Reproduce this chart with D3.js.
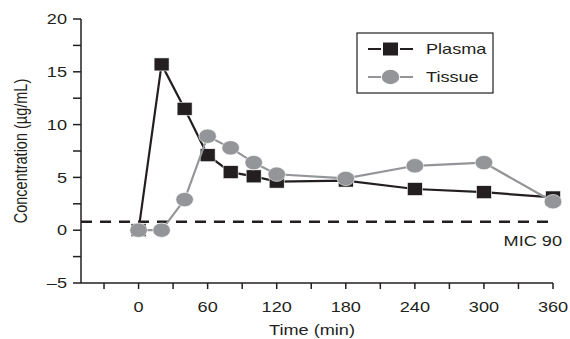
<!DOCTYPE html>
<html>
<head>
<meta charset="utf-8">
<script src="https://cdn.jsdelivr.net/npm/d3@7"></script>
<style>
  body { margin: 0; background: #fff; }
  text { font-family: "Liberation Sans", Arial, sans-serif; fill: #231f20; }
</style>
</head>
<body>
<svg id="chart" width="570" height="339"></svg>
<script>
// data
const times = [0, 20, 40, 60, 80, 100, 120, 180, 240, 300, 360];
const plasma = [0, 15.7, 11.5, 7.1, 5.5, 5.1, 4.6, 4.7, 3.9, 3.6, 3.1];
const tissue = [0, 0, 2.9, 8.9, 7.8, 6.4, 5.3, 4.9, 6.1, 6.4, 2.7];
const mic90 = 0.8;
const xTicks = [0, 60, 120, 180, 240, 300, 360];
const yTicks = [-5, 0, 5, 10, 15, 20];

const black = "#231f20", grey = "#939598";
const fs = 14.5, sx = 1.25; // the source figure is stretched sideways

const svg = d3.select("#chart"),
      x = d3.scaleLinear().domain([-50, 360]).range([81, 553]),
      y = d3.scaleLinear().domain([-5, 20]).range([283, 19]);

const axisW = 1.5;

// text placed with the same sideways stretch
const label = (g, tx, ty, anchor, str) =>
  g.append("text")
    .attr("transform", `translate(${tx},${ty}) scale(${sx},1)`)
    .attr("text-anchor", anchor)
    .attr("font-size", fs)
    .text(str);

// y axis
const yAxis = svg.append("g").attr("transform", `translate(${x.range()[0]},0)`);
yAxis.append("line")
  .attr("y1", y(-5)).attr("y2", y(20))
  .attr("stroke", black).attr("stroke-width", axisW);
yAxis.selectAll("line.tick")
  .data(d3.range(-5, 20.01, 2.5))
  .join("line").classed("tick", true)
  .attr("x1", -8).attr("x2", 0)
  .attr("y1", d => y(d)).attr("y2", d => y(d))
  .attr("stroke", black).attr("stroke-width", axisW);
yTicks.forEach(d => {
  label(yAxis, -14, y(d) + 5.2, "end", d < 0 ? "\u2013" + Math.abs(d) : d);
});

// x axis
const xAxis = svg.append("g").attr("transform", `translate(0,${y(-5)})`);
xAxis.append("line")
  .attr("x1", x(-50)).attr("x2", x(360))
  .attr("stroke", black).attr("stroke-width", axisW);
xAxis.selectAll("line.tick")
  .data(d3.range(-30, 361, 30))
  .join("line").classed("tick", true)
  .attr("x1", d => x(d)).attr("x2", d => x(d))
  .attr("y1", 0).attr("y2", 6)
  .attr("stroke", black).attr("stroke-width", axisW);
xTicks.forEach(d => label(xAxis, x(d), 29, "middle", d));

label(svg, 312, 335, "middle", "Time (min)");

svg.append("text")
  .attr("transform", `translate(27,${y(7.5)}) rotate(-90) scale(1,${sx})`)
  .attr("text-anchor", "middle").attr("font-size", fs)
  .text("Concentration (\u00b5g/mL)");

// MIC 90 line
svg.append("line")
  .attr("x1", x(-50)).attr("x2", x(360))
  .attr("y1", y(mic90)).attr("y2", y(mic90))
  .attr("stroke", black).attr("stroke-width", 2.5)
  .attr("stroke-dasharray", "11,8");
label(svg, 562, y(mic90) + 24, "end", "MIC 90");

const line = d3.line().x(d => x(d.t)).y(d => y(d.v));
const pts = vals => times.map((t, i) => ({t, v: vals[i]}));

// plasma
svg.append("path")
  .attr("d", line(pts(plasma)))
  .attr("fill", "none").attr("stroke", black).attr("stroke-width", 2.2);
svg.selectAll("rect.plasma")
  .data(pts(plasma))
  .join("rect").classed("plasma", true)
  .attr("x", d => x(d.t) - 7.5).attr("y", d => y(d.v) - 6.5)
  .attr("width", 15).attr("height", 13)
  .attr("fill", black).attr("stroke", "#fff").attr("stroke-width", 0.6);

// tissue
svg.append("path")
  .attr("d", line(pts(tissue)))
  .attr("fill", "none").attr("stroke", grey).attr("stroke-width", 2.2);
svg.selectAll("ellipse.tissue")
  .data(pts(tissue))
  .join("ellipse").classed("tissue", true)
  .attr("cx", d => x(d.t)).attr("cy", d => y(d.v))
  .attr("rx", 8.8).attr("ry", 7.2)
  .attr("fill", grey).attr("stroke", "#fff").attr("stroke-width", 0.6);

// legend
const lg = svg.append("g");
lg.append("rect")
  .attr("x", 357).attr("y", 33).attr("width", 136).attr("height", 60)
  .attr("fill", "#fff").attr("stroke", black).attr("stroke-width", 1.2);
const items = [
  {name: "Plasma", color: black, shape: "square", cy: 49},
  {name: "Tissue", color: grey, shape: "circle", cy: 77}
];
items.forEach(it => {
  lg.append("line")
    .attr("x1", 368).attr("x2", 413).attr("y1", it.cy).attr("y2", it.cy)
    .attr("stroke", it.color).attr("stroke-width", 2.2)
    .attr("stroke-dasharray", "13,4,11,4,13");
  if (it.shape === "square") {
    lg.append("rect")
      .attr("x", 390.5 - 7.5).attr("y", it.cy - 6.5)
      .attr("width", 15).attr("height", 13).attr("fill", it.color);
  } else {
    lg.append("ellipse").attr("cx", 390.5).attr("cy", it.cy)
      .attr("rx", 8.8).attr("ry", 7.2).attr("fill", it.color);
  }
  label(lg, 426, it.cy + 5.2, "start", it.name);
});
</script>
</body>
</html>
